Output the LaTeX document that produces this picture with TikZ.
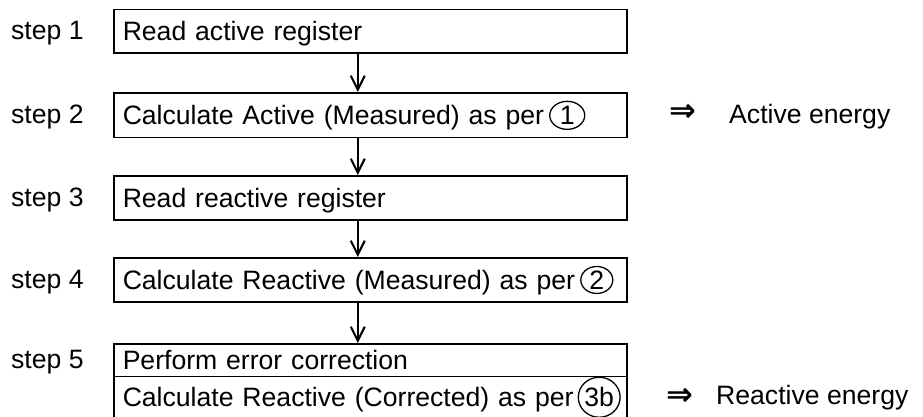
\documentclass[tikz,border=0pt]{standalone}
\usepackage{fontspec}
\setmainfont{Liberation Sans}
\newfontfamily\symfont{DejaVu Sans}
\usetikzlibrary{arrows.meta,shapes.geometric}
\newcommand{\circref}[4]{\hspace{5pt}\tikz[baseline=(#1.base)]\node[circnum, minimum width=#2, minimum height=#3] (#1) {#4};}
\begin{document}
\begin{tikzpicture}[x=1pt,y=-1pt,
  every node/.style={font=\fontsize{26.6}{32}\selectfont, inner sep=0pt},
  box/.style={draw, line width=1.5pt, anchor=north west, minimum width=513pt,
    text width=495pt, align=left, inner xsep=9pt, text height=19pt, text depth=0pt},
  steplabel/.style={anchor=base west},
  circnum/.style={draw, ellipse, line width=1.3pt, inner sep=0pt},
  arr/.style={line width=1.5pt, -{Straight Barb[length=14pt,width=14pt,line width=2.1pt]}},
  result/.style={anchor=base west},
  dbl/.style={font=\symfont\bfseries\fontsize{32}{36}\selectfont, anchor=center}
]
\useasboundingbox (0,0) rectangle (923,416);
\clip (0,0) rectangle (923,416);
\fill[white] (0,0) rectangle (923,416);

% boxes
\node[box, minimum height=43.5pt] (b1) at (113,8.5) {\mbox{Read active register}};
\node[box, minimum height=44.5pt] (b2) at (113,92) {\mbox{Calculate Active (Measured) as per\circref{c1}{35pt}{28pt}{1}}};
\node[box, minimum height=44pt] (b3) at (113,175) {\mbox{Read reactive register}};
\node[box, minimum height=44pt] (b4) at (113,257) {\mbox{Calculate Reactive (Measured) as per\circref{c2}{32pt}{27pt}{2}}};
\node[box, minimum height=32.5pt] (b5a) at (113,343) {\mbox{Perform error correction}};
\node[box, minimum height=42pt] (b5b) at (113,375.5) {\mbox{Calculate Reactive (Corrected) as per\hspace{-1pt}\circref{c3}{41pt}{40pt}{3b}}};

% step labels
\node[steplabel] (s1) at (11,39.75) {step 1};
\node[steplabel] (s2) at (11,123.75) {step 2};
\node[steplabel] (s3) at (11,206.5) {step 3};
\node[steplabel] (s4) at (11,288.5) {step 4};
\node[steplabel] (s5) at (11,368.75) {step 5};

% connectors
\draw[arr] ([xshift=-12.5pt]b1.south) -- ([xshift=-12.5pt]b2.north);
\draw[arr] ([xshift=-12.5pt]b2.south) -- ([xshift=-12.5pt]b3.north);
\draw[arr] ([xshift=-12.5pt]b3.south) -- ([xshift=-12.5pt]b4.north);
\draw[arr] ([xshift=-12.5pt]b4.south) -- ([xshift=-12.5pt]b5a.north);

% results
\node[dbl] (d1) at (683,113) {⇒};
\node[result] (r1) at (729,123.75) {Active energy};
\node[dbl] (d2) at (680,397) {⇒};
\node[result] (r2) at (716,404) {Reactive energy};
\end{tikzpicture}
\end{document}
